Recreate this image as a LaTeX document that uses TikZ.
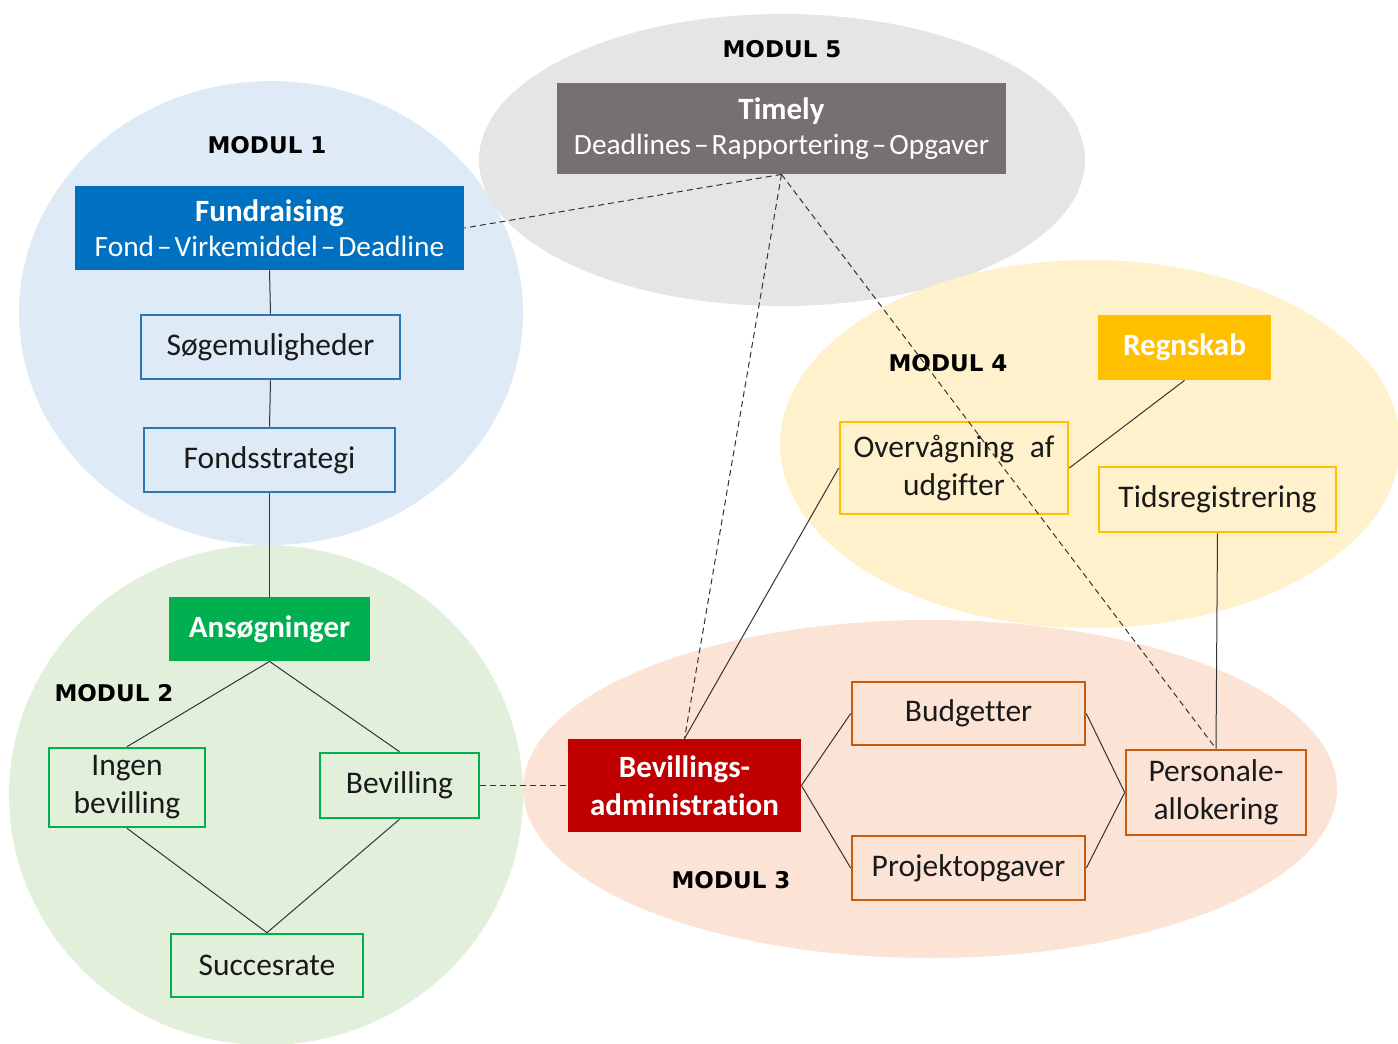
\documentclass[tikz,border=0pt]{standalone}
\usepackage{fontspec}
\setmainfont{Carlito}[Ligatures=NoCommon]
\newfontfamily\modulfont{DejaVu Sans}
\usepackage{tikz}
\usetikzlibrary{positioning}
\definecolor{modblue}{HTML}{DEEAF6}
\definecolor{modgreen}{HTML}{E2EFDA}
\definecolor{modgray}{HTML}{E5E5E5}
\definecolor{modyellow}{HTML}{FFF1CC}
\definecolor{modpeach}{HTML}{FBE4D6}
\definecolor{fundblue}{HTML}{0070C0}
\definecolor{lineblue}{HTML}{2E75B6}
\definecolor{appgreen}{HTML}{00B050}
\definecolor{timegray}{HTML}{767171}
\definecolor{admred}{HTML}{C00000}
\definecolor{lineorange}{HTML}{C55A11}
\definecolor{accyellow}{HTML}{FFC000}
\definecolor{txtgray}{HTML}{1A1A1A}
\newcommand{\dsep}{\hspace{0.1em}--\hspace{0.1em}}
\tikzset{
    raw box/.style={rectangle, inner sep=0pt, align=center, font=\fontsize{15.75}{19}\selectfont},
    head box/.style={raw box, fill=#1, text=white, font=\fontsize{15.5}{19}\selectfont\bfseries},
    sub box/.style={raw box, draw=#1, line width=1.3pt, text=txtgray},
    modul/.style={font=\modulfont\bfseries\fontsize{11.5}{14}\selectfont, text=black},
    link/.style={draw=black!80, line width=0.5pt},
    tlink/.style={link, dash pattern=on 3pt off 2pt}
}
\begin{document}
\begin{tikzpicture}[x=0.5pt, y=-0.5pt]
\useasboundingbox (0,0) rectangle (1398,1044);
% moduler
\fill[modblue] (271,313) ellipse [x radius=252, y radius=232];
\fill[modgreen] (266,795) ellipse [x radius=257, y radius=250];
\fill[modgray] (782,160) ellipse [x radius=303, y radius=146];
\fill[modyellow] (1090,444) ellipse [x radius=310, y radius=184];
\fill[modpeach] (930,789) ellipse [x radius=407, y radius=169];
\node[modul] (m1) at (267,145) {MODUL 1};
\node[modul] (m2) at (114,693) {MODUL 2};
\node[modul] (m3) at (731,880) {MODUL 3};
\node[modul] (m4) at (948,363) {MODUL 4};
\node[modul] (m5) at (782,49) {MODUL 5};
% modul 5
\node[head box=timegray, minimum width=224.5pt, minimum height=45.5pt, font=\fontsize{15.5}{17.5}\selectfont] (timely) at (781.5,128.5)
    {\textbf{Timely}\\\fontsize{14.7}{17.5}\selectfont Deadlines\dsep Rapportering\dsep Opgaver};
% modul 1
\node[head box=fundblue, minimum width=194.5pt, minimum height=42pt, font=\fontsize{15.5}{17.5}\selectfont] (fundraising) at (269.5,228)
    {\textbf{Fundraising}\\\fontsize{14.7}{17.5}\selectfont Fond\dsep Virkemiddel\dsep Deadline};
\node[sub box=lineblue, minimum width=129.5pt, minimum height=32pt] (soege) at (270.5,347) {Søgemuligheder};
\node[sub box=lineblue, minimum width=125.5pt, minimum height=32pt] (strategi) at (269.5,460) {Fondsstrategi};
% modul 2
\node[head box=appgreen, minimum width=100.5pt, minimum height=32pt] (ansoeg) at (269.5,629) {Ansøgninger};
\node[sub box=appgreen, minimum width=78pt, minimum height=39.5pt] (ingen) at (127,787.5) {Ingen\\bevilling};
\node[sub box=appgreen, minimum width=79.5pt, minimum height=32.5pt] (bevilling) at (399.5,785.5) {Bevilling};
\node[sub box=appgreen, minimum width=96pt, minimum height=31.5pt] (succes) at (267,965.5) {Succesrate};
% modul 3
\node[head box=admred, minimum width=116.5pt, minimum height=46.5pt] (bevadm) at (684.5,785.5) {Bevillings-\\administration};
\node[sub box=lineorange, minimum width=116.5pt, minimum height=31.5pt] (budget) at (968.5,713.5) {Budgetter};
\node[sub box=lineorange, minimum width=116.5pt, minimum height=32pt] (projekt) at (968.5,868) {Projektopgaver};
\node[sub box=lineorange, minimum width=90pt, minimum height=42.5pt] (personale) at (1216,792.5) {Personale-\\allokering};
% modul 4
\node[head box=accyellow, minimum width=86.5pt, minimum height=32.5pt] (regnskab) at (1184.5,347.5) {Regnskab};
\node[sub box=accyellow, minimum width=114pt, minimum height=46pt] (overvaag) at (954,468) {Overvågning\hspace{0.5em}af\\udgifter};
\node[sub box=accyellow, minimum width=118.5pt, minimum height=32.5pt] (tidsreg) at (1217.5,499.5) {Tidsregistrering};
% forbindelser
\draw[link] (fundraising.south) -- (soege.north);
\draw[link] (soege.south) -- (strategi.north);
\draw[link] (strategi.south) -- (ansoeg.north);
\draw[link] (ansoeg.south) -- (ingen.north);
\draw[link] (ansoeg.south) -- (bevilling.north);
\draw[link] (ingen.south) -- (succes.north);
\draw[link] (bevilling.south) -- (succes.north);
\draw[tlink] (bevilling.east) -- (bevadm.west);
\draw[link] (bevadm.east) -- (budget.west);
\draw[link] (bevadm.east) -- (projekt.west);
\draw[link] (budget.east) -- (personale.west);
\draw[link] (projekt.east) -- (personale.west);
\draw[link] (overvaag.west) -- (bevadm.north);
\draw[link] (regnskab.south) -- (overvaag.east);
\draw[link] (tidsreg.south) -- (personale.north);
\draw[tlink] (timely.south) -- (fundraising.east);
\draw[tlink] (timely.south) -- (bevadm.north);
\draw[tlink] (timely.south) -- (personale.north);
\end{tikzpicture}
\end{document}
